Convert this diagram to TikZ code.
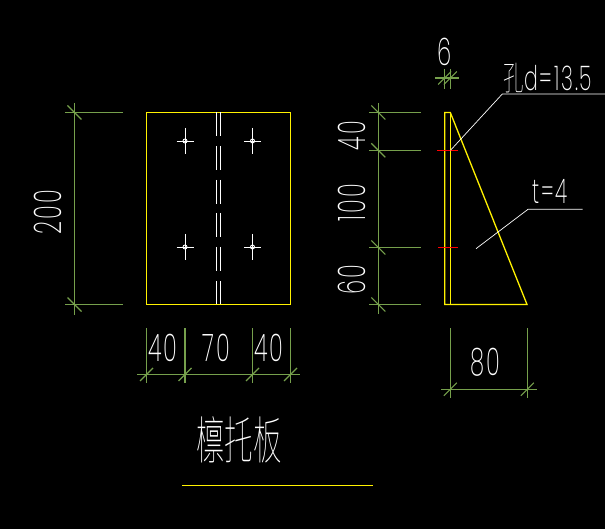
\documentclass[tikz,border=0pt]{standalone}
\usepackage{fontspec}
\newfontfamily\cadfont[LetterSpace=9]{Poppins ExtraLight}
\newfontfamily\cjkfont{Noto Sans CJK SC Thin}
\usetikzlibrary{positioning}
\definecolor{dimgreen}{RGB}{118,160,76}
\tikzset{
	dimline/.style={dimgreen,line width=1.1pt},
	plate/.style={yellow,line width=1.3pt},
	thinwhite/.style={white,line width=0.9pt},
	dimtext/.style={white,inner sep=0pt,font=\cadfont\fontsize{38}{38}\selectfont,xscale=0.6},
	dimtextup/.style={white,inner sep=0pt,font=\cadfont\fontsize{38}{38}\selectfont,yscale=0.6,rotate=90},
}
\newcommand{\slashtick}[2]{\draw[dimline] (#1-6.5,#2+6.5) -- (#1+6.5,#2-6.5);}
\newcommand{\backtick}[2]{\draw[dimline] (#1-7,#2-7) -- (#1+7,#2+7);}
\begin{document}
\begin{tikzpicture}[x=1pt,y=-1pt]
		\useasboundingbox[fill=black] (0,0) rectangle (605,529);
		% front view
		\draw[plate] (146.5,112.5) rectangle (290.5,304.5);
		\foreach \ya/\yb in {112/136,146/170,180/204,213/237,247/271,281/304} {
			\draw[thinwhite] (216.5,\ya) -- (216.5,\yb);
			\draw[thinwhite] (220.5,\ya) -- (220.5,\yb);
		}
		\foreach \hx in {185,252.5} \foreach \hy in {141,247} {
			\draw[thinwhite] (\hx-8.5,\hy) -- (\hx+8.5,\hy);
			\draw[thinwhite] (\hx,\hy-13) -- (\hx,\hy+13);
			\draw[thinwhite] (\hx,\hy) circle (2pt);
		}
		% height at the left
		\draw[dimline] (74.5,103) -- (74.5,315);
		\foreach \hy in {112.5,304.5} {
			\draw[dimline] (65,\hy) -- (123,\hy);
			\backtick{74.5}{\hy}
		}
		\node[dimtextup] (widthA) at (48,212) {200};
		% widths below
		\draw[dimline] (137,374.5) -- (300,374.5);
		\foreach \hx in {146.5,185,252.5,290.5} {
			\draw[dimline] (\hx,328) -- (\hx,383);
			\slashtick{\hx}{374.5}
		}
		\node[dimtext] (leftA) at (163,348) {40};
		\node[dimtext] (midA) at (216,348) {70};
		\node[dimtext] (rightA) at (269,348) {40};
		% side view
		\draw[plate] (450.3,112.5) -- (444.7,112.5) -- (444.7,304.5) -- (527,304.5) -- cycle;
		\draw[plate] (450.3,112.5) -- (450.3,304.5);
		\draw[red,line width=1pt] (437,150.3) -- (457.7,150.3);
		\draw[red,line width=0.6pt] (438,247.5) -- (458,247.5);
		\draw[thinwhite,line width=0.7pt] (450.5,150.3) -- (502.3,94) -- (605,94);
		\draw[thinwhite,line width=0.7pt] (476,248.7) -- (528,209.3) -- (582.7,209.3);
		\node[dimtext,font=\cadfont\fontsize{34}{34}\selectfont] (holeA) at (548,78) {\cjkfont 孔\cadfont d=13.5};
		\node[dimtext,font=\cadfont\fontsize{34}{34}\selectfont] (thickA) at (550,191) {t=4};
		% thickness on top
		\draw[dimline] (435,78) -- (459,78);
		\foreach \hx in {444.7,450.3} {
			\draw[dimline] (\hx,69) -- (\hx,89);
			\slashtick{\hx}{78}
		}
		\node[dimtext] (sixA) at (445,52) {6};
		% heights of the side view
		\draw[dimline] (378.3,103) -- (378.3,314);
		\foreach \hy in {112.5,150.3,247.5,304.5} {
			\draw[dimline] (369,\hy) -- (420.7,\hy);
			\backtick{378.3}{\hy}
		}
		\node[dimtextup] (topB) at (352,135.5) {40};
		\node[dimtextup] (midB) at (352,203) {100};
		\node[dimtextup] (lowB) at (352,279.5) {60};
		% depth below
		\draw[dimline] (441,389.3) -- (536.7,389.3);
		\foreach \hx in {450.3,527.3} {
			\draw[dimline] (\hx,328) -- (\hx,398);
			\slashtick{\hx}{389.3}
		}
		\node[dimtext] (depthA) at (485.7,362.7) {80};
		% title
		\node[white,inner sep=0pt,font=\cjkfont\fontsize{28.5}{28.5}\selectfont,yscale=1.8] (titleA) at (239,440) {檩托板};
		\draw[plate] (182,485.3) -- (372.7,485.3);
		\end{tikzpicture}
\end{document}
